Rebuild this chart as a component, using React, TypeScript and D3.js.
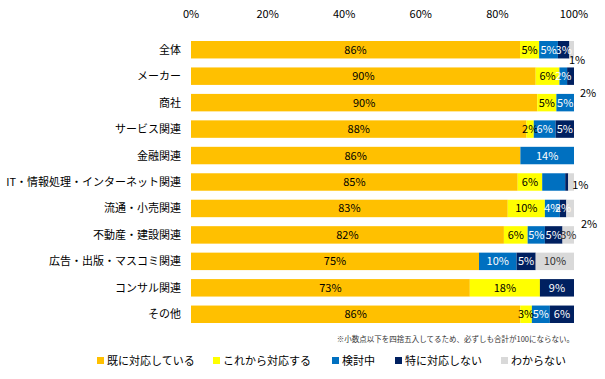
import React from "react";
import * as d3 from "d3";

const categories = [
  "全体",
  "メーカー",
  "商社",
  "サービス関連",
  "金融関連",
  "IT・情報処理・インターネット関連",
  "流通・小売関連",
  "不動産・建設関連",
  "広告・出版・マスコミ関連",
  "コンサル関連",
  "その他",
];
const seriesNames = ["既に対応している", "これから対応する", "検討中", "特に対応しない", "わからない"];
const already = [85.9, 90.0, 90.4, 87.6, 86.0, 85.3, 82.7, 81.7, 75.2, 72.8, 86.0];
const planning = [5.0, 6.2, 5.0, 1.9, 0, 6.4, 9.7, 6.2, 0, 18.3, 3.0];
const considering = [4.9, 2.0, 4.6, 5.7, 14.0, 6.0, 3.9, 4.5, 9.8, 0, 4.7];
const notPlanned = [3.0, 1.8, 0, 4.8, 0, 0.8, 1.7, 4.6, 5.0, 8.9, 6.3];
const unknown = [1.2, 0, 0, 0, 0, 1.5, 2.0, 3.0, 10.0, 0, 0];
const xTicks = [0, 20, 40, 60, 80, 100];
const footnote = "※小数点以下を四捨五入してるため、必ずしも合計が100にならない。";
// labels drawn outside the bar: [row, series]
const outsideLabels: [number, number][] = [
  [0, 4],
  [1, 3],
  [5, 3],
  [6, 4],
];
// labels hidden inside the bar (segment too small / unlabeled)
const hiddenLabels: [number, number][] = [
  [0, 4],
  [1, 3],
  [5, 2],
  [5, 3],
  [5, 4],
  [6, 4],
];

const colors = ["#FFC000", "#FFFF00", "#0070C0", "#002060", "#D9D9D9"];
const textColors = ["#000", "#000", "#fff", "#fff", "#333"];

export default function App() {
  const W = 605;
  const H = 379;
  const font = "'Noto Sans CJK JP', 'Noto Sans', sans-serif";
  const x = d3.scaleLinear().domain([0, 100]).range([191, 574]);
  const y = d3.scaleBand<string>().domain(categories).range([32, 332]).padding(0.34);
  const series = [already, planning, considering, notPlanned, unknown];
  const rows = categories.map((c, i) => {
    const o: any = { cat: c };
    series.forEach((s, k) => (o["s" + k] = s[i]));
    return o;
  });
  const stacked = d3.stack<any>().keys(series.map((_, k) => "s" + k))(rows);
  const isHidden = (r: number, k: number) => hiddenLabels.some(([a, b]) => a === r && b === k);
  const outsideOffsets: Record<string, [number, number]> = {
    "0-4": [3, 10],
    "1-3": [14, 17],
    "5-3": [12, 3],
    "6-4": [15, 16],
  };
  const legendX = [97, 213, 332, 395, 501];

  return (
    <svg width={W} height={H} style={{ position: "absolute", left: 0, top: 0, background: "#fff" }} fontFamily={font}>
      {xTicks.map((t) => (
        <text key={t} x={x(t)} y={18} fontSize={11} textAnchor="middle" fill="#000">
          {t}%
        </text>
      ))}
      {categories.map((c) => (
        <text key={c} x={181} y={(y(c) as number) + y.bandwidth() / 2 + 4} fontSize={11} textAnchor="end" fill="#000">
          {c}
        </text>
      ))}
      {stacked.map((layer, k) =>
        layer.map((d, i) => {
          const w = x(d[1]) - x(d[0]);
          if (w <= 0) return null;
          return (
            <rect
              key={k + "-" + i}
              x={x(d[0])}
              y={y(categories[i]) as number}
              width={w}
              height={y.bandwidth()}
              fill={colors[k]}
            />
          );
        })
      )}
      {stacked.map((layer, k) =>
        layer.map((d, i) => {
          const v = d[1] - d[0];
          if (v <= 0 || isHidden(i, k)) return null;
          return (
            <text
              key={"l" + k + "-" + i}
              x={(x(d[0]) + x(d[1])) / 2}
              y={(y(categories[i]) as number) + y.bandwidth() / 2 + 4}
              fontSize={11}
              textAnchor="middle"
              fill={textColors[k]}
            >
              {Math.round(v)}%
            </text>
          );
        })
      )}
      {outsideLabels.map(([r, k]) => {
        const layer = stacked[k][r];
        const v = layer[1] - layer[0];
        const off = outsideOffsets[r + "-" + k];
        return (
          <text
            key={"o" + r + k}
            x={x(layer[1]) + off[0]}
            y={(y(categories[r]) as number) + y.bandwidth() / 2 + 4 + off[1]}
            fontSize={11}
            textAnchor="middle"
            fill="#000"
          >
            {Math.max(1, Math.round(v))}%
          </text>
        );
      })}
      <text x={574} y={342} fontSize={7.5} textAnchor="end" fill="#333">
        {footnote}
      </text>
      {seriesNames.map((n, k) => (
        <g key={n}>
          <rect x={legendX[k]} y={357} width={7} height={7} fill={colors[k]} />
          <text x={legendX[k] + 10} y={365} fontSize={11} fill="#000">
            {n}
          </text>
        </g>
      ))}
    </svg>
  );
}
